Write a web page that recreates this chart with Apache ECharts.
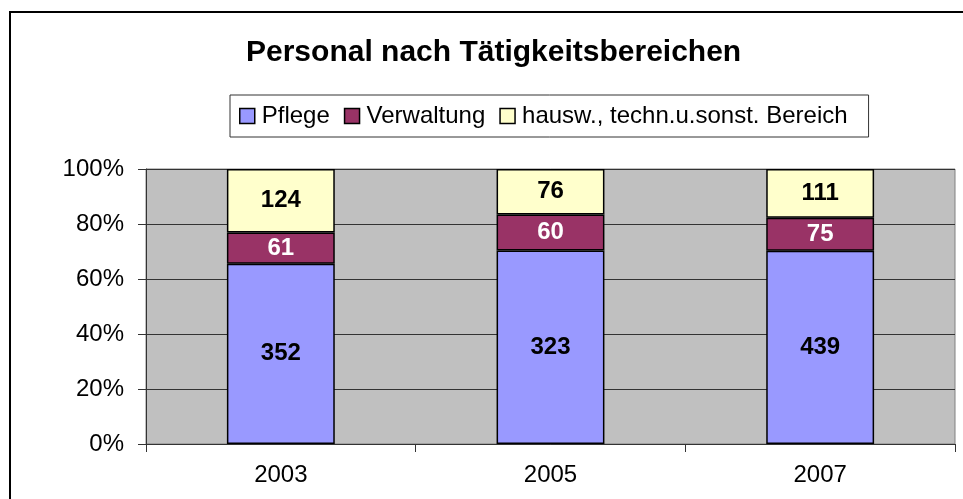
<!DOCTYPE html>
<html>
<head>
<meta charset="utf-8">
<script src="https://cdn.jsdelivr.net/npm/echarts@6/dist/echarts.min.js"></script>
<style>
html,body{margin:0;padding:0;background:#fff;}
#chart{width:963px;height:499px;}
</style>
</head>
<body>
<div id="chart"></div>
<script>
const categories = ['2003', '2005', '2007'];
const pflege = [352, 323, 439];
const verwaltung = [61, 60, 75];
const sonstige = [124, 76, 111];
const seriesNames = ['Pflege', 'Verwaltung', 'hausw., techn.u.sonst. Bereich'];
const yTicks = [0, 20, 40, 60, 80, 100];

const totals = categories.map((c, i) => pflege[i] + verwaltung[i] + sonstige[i]);
const pct = arr => arr.map((v, i) => v / totals[i] * 100);
const raw = [pflege, verwaltung, sonstige];
const colors = ['#9999FF', '#993366', '#FFFFCC'];
const labelColors = ['#000', '#fff', '#000'];
const font = 'Liberation Sans, Arial, sans-serif';

const chart = echarts.init(document.getElementById('chart'));
chart.setOption({
  animation: false,
  backgroundColor: '#fff',
  textStyle: { fontFamily: font },
  graphic: [{
    type: 'rect',
    shape: { x: 10, y: 12, width: 1000, height: 1000 },
    style: { fill: 'none', stroke: '#000', lineWidth: 2 },
    z: 100
  }],
  title: {
    text: 'Personal nach Tätigkeitsbereichen',
    left: 246, top: 38,
    padding: 0,
    textStyle: { fontSize: 30, fontWeight: 'bold', color: '#000', fontFamily: font }
  },
  legend: {
    left: 230, top: 95,
    padding: [9, 21, 9, 9],
    borderColor: '#333', borderWidth: 1,
    itemWidth: 15, itemHeight: 15, itemGap: 14,
    icon: 'rect',
    itemStyle: { borderColor: '#000', borderWidth: 1.5 },
    textStyle: { fontSize: 24, color: '#000', fontFamily: font, padding: [0, 0, 0, 2] },
    data: seriesNames
  },
  grid: {
    left: 146, top: 169, width: 809, height: 275,
    show: true, backgroundColor: '#C0C0C0', borderColor: '#808080', borderWidth: 1
  },
  xAxis: {
    type: 'category',
    data: categories,
    boundaryGap: true,
    axisLine: { lineStyle: { color: '#333', width: 1 } },
    axisTick: { show: true, length: 8, alignWithLabel: false, lineStyle: { color: '#333' } },
    axisLabel: { fontSize: 24, color: '#000', margin: 19, fontFamily: font }
  },
  yAxis: {
    type: 'value',
    min: 0, max: 100, interval: 20,
    axisLine: { show: true, lineStyle: { color: '#333', width: 1 } },
    axisTick: { show: true, length: 8, inside: false, lineStyle: { color: '#333' } },
    splitLine: { show: true, lineStyle: { color: '#333', width: 1 } },
    axisLabel: { fontSize: 24, color: '#000', margin: 22, fontFamily: font, formatter: v => yTicks.includes(v) ? v + '%' : '' }
  },
  series: raw.map((arr, k) => ({
    name: seriesNames[k],
    type: 'bar',
    stack: 'total',
    barWidth: '40%',
    data: pct(arr),
    itemStyle: { color: colors[k], borderColor: '#000', borderWidth: 1.5 },
    label: {
      show: true, position: 'inside',
      fontSize: 24, fontWeight: 'bold', color: labelColors[k], fontFamily: font,
      formatter: p => String(arr[p.dataIndex])
    }
  }))
});
</script>
</body>
</html>
